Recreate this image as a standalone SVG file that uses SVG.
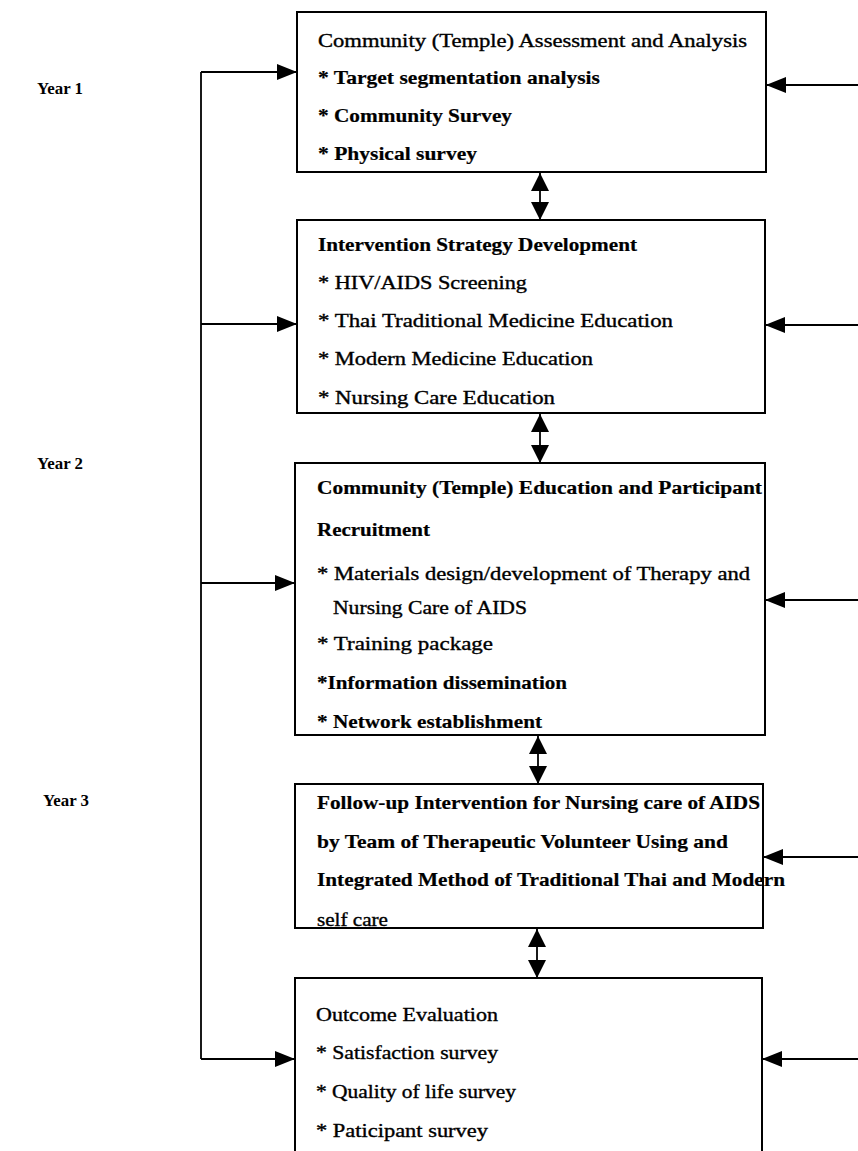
<svg xmlns="http://www.w3.org/2000/svg" width="858" height="1151" viewBox="0 0 858 1151">
<style>
.box{fill:#fff;stroke:#000;stroke-width:2}
.t{font-family:"Liberation Serif","Times New Roman",serif;font-size:18px;fill:#000;stroke:#000;stroke-width:0.35}
.b{font-weight:bold;stroke-width:0.2}
.yr{font-family:"Liberation Serif","Times New Roman",serif;font-size:17px;font-weight:bold;fill:#000}
.c{fill:none;stroke:#000;stroke-width:1.8}
</style>
<defs>
<marker id="ah" viewBox="0 0 20 16" refX="20" refY="8" markerWidth="20" markerHeight="16" markerUnits="userSpaceOnUse" orient="auto-start-reverse"><path d="M0,0 L20,8 L0,16 z" fill="#000"/></marker>
<marker id="dh" viewBox="0 0 18 18" refX="18" refY="9" markerWidth="18" markerHeight="18" markerUnits="userSpaceOnUse" orient="auto-start-reverse"><path d="M0,0 L18,9 L0,18 z" fill="#000"/></marker>
</defs>
<rect width="858" height="1151" fill="#fff"/>
<g id="labels">
<text class="yr" x="37" y="94" textLength="46" lengthAdjust="spacingAndGlyphs">Year 1</text>
<text class="yr" x="37" y="469" textLength="46" lengthAdjust="spacingAndGlyphs">Year 2</text>
<text class="yr" x="43" y="806" textLength="46" lengthAdjust="spacingAndGlyphs">Year 3</text>
</g>
<g id="connectors">
<path class="c" d="M201,72 V1059"/>
<line class="c" x1="201" y1="72" x2="297" y2="72" marker-end="url(#ah)"/>
<line class="c" x1="201" y1="324" x2="297" y2="324" marker-end="url(#ah)"/>
<line class="c" x1="201" y1="583" x2="295" y2="583" marker-end="url(#ah)"/>
<line class="c" x1="201" y1="1059" x2="295" y2="1059" marker-end="url(#ah)"/>
<line class="c" x1="858" y1="85" x2="766" y2="85" marker-end="url(#ah)"/>
<line class="c" x1="858" y1="325" x2="765" y2="325" marker-end="url(#ah)"/>
<line class="c" x1="858" y1="600" x2="765" y2="600" marker-end="url(#ah)"/>
<line class="c" x1="858" y1="857" x2="763" y2="857" marker-end="url(#ah)"/>
<line class="c" x1="858" y1="1059" x2="762" y2="1059" marker-end="url(#ah)"/>
<line class="c" x1="540" y1="173" x2="540" y2="220" marker-start="url(#dh)" marker-end="url(#dh)"/>
<line class="c" x1="540" y1="414" x2="540" y2="463" marker-start="url(#dh)" marker-end="url(#dh)"/>
<line class="c" x1="538" y1="736" x2="538" y2="784" marker-start="url(#dh)" marker-end="url(#dh)"/>
<line class="c" x1="537" y1="929" x2="537" y2="978" marker-start="url(#dh)" marker-end="url(#dh)"/>
</g>
<g id="box1">
<rect class="box" x="297" y="12" width="469" height="160"/>
<text class="t" x="318" y="47" textLength="429" lengthAdjust="spacingAndGlyphs">Community (Temple) Assessment and Analysis</text>
<text class="t b" x="318" y="84" textLength="282" lengthAdjust="spacingAndGlyphs">* Target segmentation analysis</text>
<text class="t b" x="318" y="122" textLength="194" lengthAdjust="spacingAndGlyphs">* Community Survey</text>
<text class="t b" x="318" y="160" textLength="159" lengthAdjust="spacingAndGlyphs">* Physical survey</text>
</g>
<g id="box2">
<rect class="box" x="297" y="220" width="468" height="193"/>
<text class="t b" x="318" y="251" textLength="319" lengthAdjust="spacingAndGlyphs">Intervention Strategy Development</text>
<text class="t" x="318" y="289" textLength="209" lengthAdjust="spacingAndGlyphs">* HIV/AIDS Screening</text>
<text class="t" x="318" y="327" textLength="355" lengthAdjust="spacingAndGlyphs">* Thai Traditional Medicine Education</text>
<text class="t" x="318" y="365" textLength="275" lengthAdjust="spacingAndGlyphs">* Modern Medicine Education</text>
<text class="t" x="318" y="404" textLength="237" lengthAdjust="spacingAndGlyphs">* Nursing Care Education</text>
</g>
<g id="box3">
<rect class="box" x="295" y="463" width="470" height="272"/>
<text class="t b" x="317" y="494" textLength="445" lengthAdjust="spacingAndGlyphs">Community (Temple) Education and Participant</text>
<text class="t b" x="317" y="536" textLength="113" lengthAdjust="spacingAndGlyphs">Recruitment</text>
<text class="t" x="317" y="580" textLength="433" lengthAdjust="spacingAndGlyphs">* Materials design/development of Therapy and</text>
<text class="t" x="333" y="614" textLength="194" lengthAdjust="spacingAndGlyphs">Nursing Care of AIDS</text>
<text class="t" x="317" y="650" textLength="176" lengthAdjust="spacingAndGlyphs">* Training package</text>
<text class="t b" x="317" y="689" textLength="250" lengthAdjust="spacingAndGlyphs">*Information dissemination</text>
<text class="t b" x="317" y="728" textLength="225" lengthAdjust="spacingAndGlyphs">* Network establishment</text>
</g>
<g id="box4">
<rect class="box" x="295" y="784" width="468" height="144"/>
<text class="t b" x="317" y="809" textLength="443" lengthAdjust="spacingAndGlyphs">Follow-up Intervention for Nursing care of AIDS</text>
<text class="t b" x="317" y="848" textLength="411" lengthAdjust="spacingAndGlyphs">by Team of Therapeutic Volunteer Using and</text>
<text class="t b" x="317" y="886" textLength="468" lengthAdjust="spacingAndGlyphs">Integrated Method of Traditional Thai and Modern</text>
<text class="t" x="317" y="926" textLength="71" lengthAdjust="spacingAndGlyphs">self care</text>
</g>
<g id="box5">
<rect class="box" x="295" y="978" width="467" height="200"/>
<text class="t" x="316" y="1021" textLength="182" lengthAdjust="spacingAndGlyphs">Outcome Evaluation</text>
<text class="t" x="316" y="1059" textLength="182" lengthAdjust="spacingAndGlyphs">* Satisfaction survey</text>
<text class="t" x="316" y="1098" textLength="200" lengthAdjust="spacingAndGlyphs">* Quality of life survey</text>
<text class="t" x="316" y="1137" textLength="172" lengthAdjust="spacingAndGlyphs">* Paticipant survey</text>
</g>
</svg>
